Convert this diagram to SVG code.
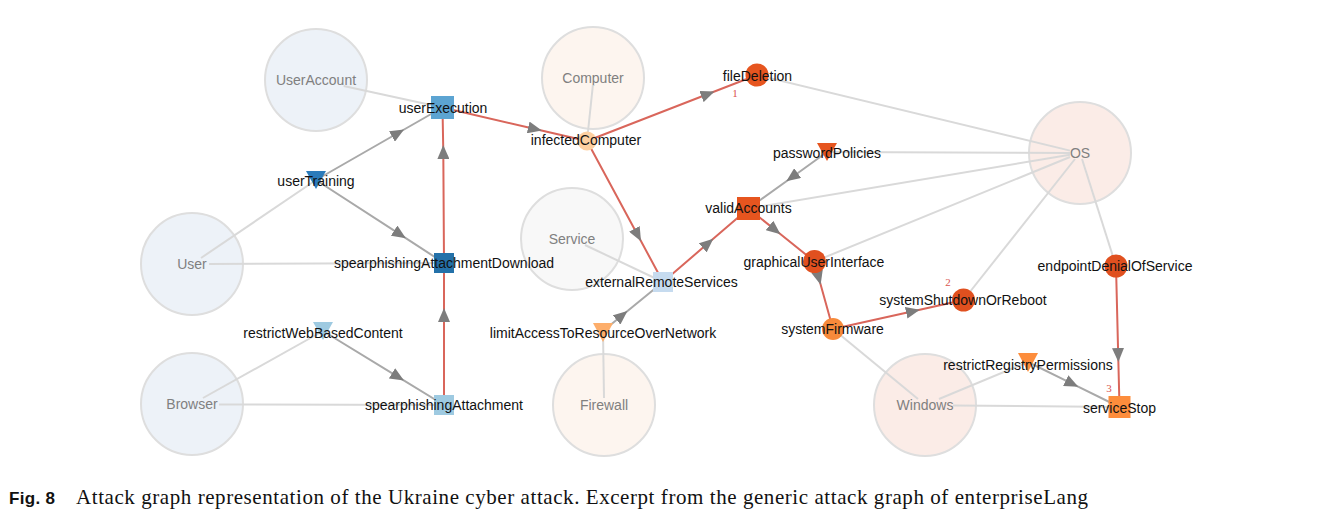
<svg xmlns="http://www.w3.org/2000/svg" width="1318" height="524" viewBox="0 0 1318 524">
<style>
.big{stroke:#dedede;stroke-width:2}
.ub{fill:#edf2f8}
.cb{fill:#fdf5ef}
.sb{fill:#f8f8f8}
.ob{fill:#fbece7}
.blab{font-family:"Liberation Sans",Arial,sans-serif;font-size:14px;fill:#808080;text-anchor:middle}
.lab{font-family:"Liberation Sans",Arial,sans-serif;font-size:14px;fill:#111;text-anchor:middle}
.num{font-family:"Liberation Serif","Times New Roman",serif;font-size:11px;fill:#d9534f;text-anchor:middle}
.attr{stroke:#d9d9d9;stroke-width:2;fill:none}
.def{stroke:#a9a9a9;stroke-width:2;fill:none;marker-mid:url(#ag)}
.atk{stroke:#d9665b;stroke-width:2;fill:none;marker-mid:url(#ag)}
</style>
<defs>
<marker id="ag" viewBox="0 0 14 12" refX="7" refY="6" markerWidth="14" markerHeight="12" markerUnits="userSpaceOnUse" orient="auto">
<path d="M0,0 L14,6 L0,12 z" fill="#7d7d7d"/>
</marker>
</defs>
<rect width="1318" height="524" fill="#ffffff"/>

<!-- asset (big) nodes -->
<g id="UserAccount"><circle class="big ub" cx="316" cy="80" r="51"/><text class="blab" x="316" y="85">UserAccount</text></g>
<g id="Computer"><circle class="big cb" cx="593" cy="78" r="51"/><text class="blab" x="593" y="83">Computer</text></g>
<g id="User"><circle class="big ub" cx="192" cy="264" r="51"/><text class="blab" x="192" y="269">User</text></g>
<g id="Service"><circle class="big sb" cx="572" cy="239" r="51"/><text class="blab" x="572" y="244">Service</text></g>
<g id="Browser"><circle class="big ub" cx="192" cy="404" r="51"/><text class="blab" x="192" y="409">Browser</text></g>
<g id="Firewall"><circle class="big cb" cx="604" cy="405" r="51"/><text class="blab" x="604" y="410">Firewall</text></g>
<g id="OS"><circle class="big ob" cx="1080" cy="153" r="51"/><text class="blab" x="1080" y="158">OS</text></g>
<g id="Windows"><circle class="big ob" cx="925" cy="405" r="51"/><text class="blab" x="925" y="410">Windows</text></g>

<!-- connectors -->
<g id="connectors">
<path class="attr" d="M343.6,86 L442.5,107.5"/>
<path class="attr" d="M201,258 L316,180"/>
<path class="attr" d="M209,264 L444,263"/>
<path class="attr" d="M203,398 L323,331"/>
<path class="attr" d="M219,404.5 L444,405"/>
<path class="attr" d="M592.9,85 L587,141"/>
<path class="attr" d="M585,245 L663,282"/>
<path class="attr" d="M604,398 L603,331"/>
<path class="attr" d="M1070,150.6 L757,75"/>
<path class="attr" d="M1070,153 L827,152"/>
<path class="attr" d="M1070,154.7 L748.5,208.5"/>
<path class="attr" d="M1070,157 L814.5,261.5"/>
<path class="attr" d="M1075,159 L963.5,300"/>
<path class="attr" d="M1082,159 L1116,266"/>
<path class="attr" d="M918,399 L833,329"/>
<path class="attr" d="M939,399 L1028,362"/>
<path class="attr" d="M953,405.4 L1119.5,407"/>

<path class="def" d="M316,180 L398,133 L442.5,107.5"/>
<path class="def" d="M316,180 L400,234.4 L444,263"/>
<path class="def" d="M323,331 L398,376.9 L444,405"/>
<path class="def" d="M827,152 L792,177.2 L748.5,208.5"/>
<path class="def" d="M603,331 L622,315.5 L663,282"/>
<path class="def" d="M1028,362 L1072,383.6 L1119.5,407"/>

<path class="atk" d="M444,405 L444,315 L444,263"/>
<path class="atk" d="M444,263 L443.3,152 L442.5,107.5"/>
<path class="atk" d="M442.5,107.5 L535,129 L587,141"/>
<path class="atk" d="M587,141 L708,94 L757,75"/>
<path class="atk" d="M587,141 L637.7,235 L663,282"/>
<path class="atk" d="M663,282 L708,243.3 L748.5,208.5"/>
<path class="atk" d="M748.5,208.5 L775,229.8 L814.5,261.5"/>
<path class="atk" d="M814.5,261.5 L818.8,278 L833,329"/>
<path class="atk" d="M833,329 L913,311.2 L963.5,300"/>
<path class="atk" d="M1116,266 L1118.2,355 L1119.5,407"/>
</g>

<!-- attack step / defense nodes -->
<g id="userExecution"><rect x="431" y="96" width="23" height="23" fill="#5ca4d2"/><text class="lab" x="443" y="113">userExecution</text></g>
<g id="userTraining"><polygon points="306,171 326,171 316,189" fill="#2b7bba"/><text class="lab" x="316" y="186">userTraining</text></g>
<g id="spearphishingAttachmentDownload"><rect x="434" y="253" width="20" height="20" fill="#2471a9"/><text class="lab" x="444" y="268">spearphishingAttachmentDownload</text></g>
<g id="restrictWebBasedContent"><polygon points="313,322 333,322 323,340" fill="#9ecae1"/><text class="lab" x="323" y="338">restrictWebBasedContent</text></g>
<g id="spearphishingAttachment"><rect x="434" y="395" width="20" height="20" fill="#9ecae1"/><text class="lab" x="444" y="410">spearphishingAttachment</text></g>
<g id="infectedComputer"><circle cx="587" cy="141" r="9.5" fill="#fdd0a2"/><text class="lab" x="586" y="145">infectedComputer</text></g>
<g id="fileDeletion"><circle cx="757" cy="75" r="11.5" fill="#e6551f"/><text class="lab" x="757.5" y="81">fileDeletion</text><text class="num" x="735" y="97">1</text></g>
<g id="passwordPolicies"><polygon points="817,143 837,143 827,161" fill="#e6551f"/><text class="lab" x="827" y="158">passwordPolicies</text></g>
<g id="validAccounts"><rect x="737" y="197" width="23" height="23" fill="#e6551f"/><text class="lab" x="748.5" y="213">validAccounts</text></g>
<g id="externalRemoteServices"><rect x="653" y="272" width="20" height="20" fill="#c6dbef"/><text class="lab" x="661.5" y="287">externalRemoteServices</text></g>
<g id="limitAccessToResourceOverNetwork"><polygon points="593,323 613,323 603,342" fill="#fdae6b"/><text class="lab" x="603" y="338">limitAccessToResourceOverNetwork</text></g>
<g id="graphicalUserInterface"><circle cx="814.5" cy="261.5" r="11.5" fill="#e0501f"/><text class="lab" x="814" y="267">graphicalUserInterface</text></g>
<g id="systemFirmware"><circle cx="833" cy="329" r="11" fill="#f78a3b"/><text class="lab" x="832.5" y="334">systemFirmware</text></g>
<g id="systemShutdownOrReboot"><circle cx="963.5" cy="300" r="11.5" fill="#e0501f"/><text class="lab" x="963" y="305">systemShutdownOrReboot</text><text class="num" x="948" y="286">2</text></g>
<g id="endpointDenialOfService"><circle cx="1116" cy="266" r="11.5" fill="#e0501f"/><text class="lab" x="1115" y="271">endpointDenialOfService</text></g>
<g id="restrictRegistryPermissions"><polygon points="1018,353 1038,353 1028,372" fill="#fd8d3c"/><text class="lab" x="1028" y="370">restrictRegistryPermissions</text></g>
<g id="serviceStop"><rect x="1108.5" y="396" width="22" height="22" fill="#fd8d3c"/><text class="lab" x="1119.5" y="413">serviceStop</text><text class="num" x="1109" y="392">3</text></g>

<!-- caption -->
<text x="9" y="504" font-family="Liberation Sans,Arial,sans-serif" font-weight="bold" font-size="17" fill="#111" textLength="46">Fig. 8</text>
<text x="76" y="504" font-family="Liberation Serif,Times New Roman,serif" font-size="21" fill="#111" textLength="1012">Attack graph representation of the Ukraine cyber attack. Excerpt from the generic attack graph of enterpriseLang</text>
</svg>
